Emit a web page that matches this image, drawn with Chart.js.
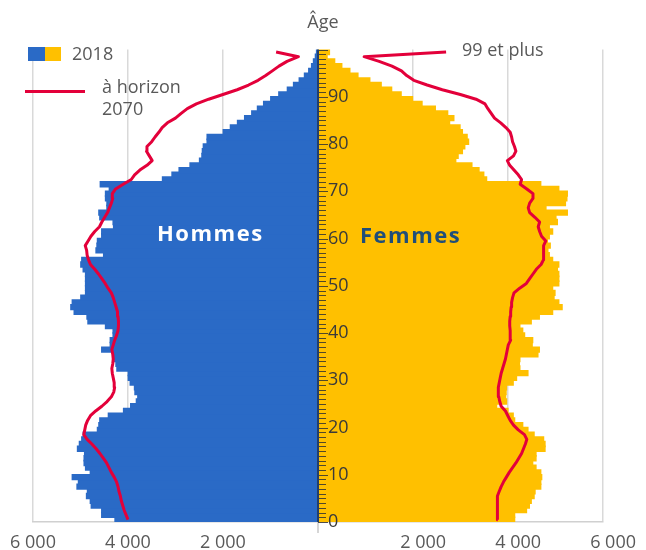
<!DOCTYPE html>
<html lang="fr">
<head>
<meta charset="utf-8">
<title>Pyramide des âges 2018 et 2070</title>
<script src="https://cdn.jsdelivr.net/npm/chart.js@4.4.1/dist/chart.umd.min.js"></script>
<style>
  html, body { margin: 0; padding: 0; background: #fff; }
  #wrap { position: relative; width: 646px; height: 550px; }
</style>
</head>
<body>
<div id="wrap"><canvas id="pyramid" width="646" height="550"></canvas></div>
<script>
// ages 0 a 99 (99 = "99 et plus")
const ages = [
  0, 1, 2, 3, 4, 5, 6, 7, 8, 9,
  10, 11, 12, 13, 14, 15, 16, 17, 18, 19,
  20, 21, 22, 23, 24, 25, 26, 27, 28, 29,
  30, 31, 32, 33, 34, 35, 36, 37, 38, 39,
  40, 41, 42, 43, 44, 45, 46, 47, 48, 49,
  50, 51, 52, 53, 54, 55, 56, 57, 58, 59,
  60, 61, 62, 63, 64, 65, 66, 67, 68, 69,
  70, 71, 72, 73, 74, 75, 76, 77, 78, 79,
  80, 81, 82, 83, 84, 85, 86, 87, 88, 89,
  90, 91, 92, 93, 94, 95, 96, 97, 98, 99,
];

const hommes2018 = [
  4280, 4560, 4560, 4780, 4800, 4880, 4860, 5080, 5050, 5180,
  4800, 4900, 4930, 4930, 4920, 5070, 5030, 4980, 4950, 4650,
  4620, 4600, 4420, 4100, 3950, 3830, 3800, 3860, 3870, 3960,
  4000, 4000, 4240, 4260, 4310, 4300, 4560, 4380, 4380, 4320,
  4320, 4480, 4850, 4870, 5140, 5210, 5180, 5000, 4900, 4900,
  4900, 4900, 4900, 4950, 5000, 4980, 4520, 4680, 4660, 4650,
  4560, 4560, 4310, 4320, 4600, 4620, 4450, 4450, 4480, 4480,
  4400, 4590, 3280, 3080, 2930, 2700, 2500, 2450, 2440, 2420,
  2340, 2340, 2000, 1850, 1700, 1550, 1400, 1280, 1150, 1000,
  830, 650, 520, 400, 290, 200, 140, 100, 60, 35,
];

const femmes2018 = [
  4150, 4150, 4400, 4460, 4500, 4560, 4580, 4700, 4700, 4720,
  4700, 4600, 4530, 4600, 4600, 4790, 4790, 4760, 4560, 4430,
  4320, 4150, 4120, 4010, 3770, 3980, 3960, 3970, 3980, 4120,
  4190, 4430, 4260, 4250, 4260, 4640, 4670, 4520, 4530, 4360,
  4320, 4260, 4500, 4670, 4950, 5150, 5080, 4980, 5000, 4950,
  5080, 5080, 5080, 5050, 5080, 4950, 4880, 4850, 4900, 4840,
  4880, 4950, 4880, 5050, 5020, 5260, 4810, 5220, 5250, 5260,
  5080, 4700, 3560, 3500, 3400, 3250, 2910, 2960, 3050, 3100,
  3180, 3150, 3050, 3000, 2780, 2870, 2740, 2480, 2200, 2000,
  1760, 1560, 1340, 1100, 850, 680, 510, 360, 200, 250,
];

const hommes2070 = [
  4000, 4040, 4080, 4110, 4140, 4160, 4190, 4210, 4240, 4290,
  4350, 4400, 4450, 4520, 4590, 4670, 4760, 4860, 4930, 4910,
  4890, 4850, 4790, 4680, 4550, 4440, 4350, 4300, 4280, 4290,
  4310, 4330, 4340, 4320, 4310, 4320, 4340, 4310, 4280, 4240,
  4210, 4200, 4200, 4210, 4220, 4250, 4280, 4310, 4350, 4420,
  4480, 4550, 4620, 4700, 4790, 4830, 4860, 4870, 4900, 4840,
  4780, 4700, 4600, 4550, 4490, 4430, 4390, 4350, 4320, 4330,
  4260, 4100, 3930, 3860, 3750, 3600, 3490, 3550, 3610, 3600,
  3500, 3430, 3350, 3280, 3170, 3000, 2880, 2750, 2560, 2300,
  2000, 1700, 1460, 1260, 1100, 960, 820, 650, 410, 880,
];

const femmes2070 = [
  3790, 3785, 3780, 3775, 3775, 3790, 3820, 3860, 3910, 3970,
  4030, 4100, 4170, 4230, 4290, 4330, 4370, 4400, 4350, 4220,
  4120, 4050, 4000, 3950, 3860, 3830, 3810, 3800, 3800, 3820,
  3840, 3860, 3890, 3920, 3950, 3970, 3990, 4010, 4060, 4050,
  4050, 4040, 4040, 4050, 4060, 4070, 4080, 4100, 4130, 4250,
  4390, 4460, 4530, 4600, 4700, 4750, 4750, 4750, 4760, 4800,
  4710, 4670, 4640, 4670, 4570, 4460, 4430, 4460, 4530, 4530,
  4400, 4260, 4290, 4220, 4130, 4040, 3990, 4120, 4170, 4140,
  4100, 4080, 4050, 3960, 3850, 3720, 3650, 3580, 3520, 3330,
  3000, 2620, 2300, 2020, 1870, 1760, 1560, 1290, 974, 2700,
];

const ageTicks = [0, 10, 20, 30, 40, 50, 60, 70, 80, 90];

const BLEU = "#2a6ac6";
const JAUNE = "#ffc000";
const ROUGE = "#e3003a";
const GRIS = "#595959";

Chart.defaults.font.family = "'Open Sans', sans-serif";
Chart.defaults.color = GRIS;

// hommes a gauche (valeurs negatives), femmes a droite
function toPoints(values, sign) {
  return values.map((v, i) => ({ x: sign * v, y: ages[i] + 0.5 }));
}

function formatTick(v) {
  if (v === 0) return "";
  const s = String(Math.abs(v)).replace(/\B(?=(\d{3})+(?!\d))/g, " ");
  return v > 0 ? "\u2007\u2007" + s : s;
}

const pyramidDecor = {
  id: "pyramidDecor",
  afterDatasetsDraw(chart) {
    const { ctx, scales: { x, y } } = chart;
    const x0 = Math.round(x.getPixelForValue(0));
    const yBottom = y.getPixelForValue(0);
    const yTop = y.getPixelForValue(100);
    ctx.save();

    // petit trait sous l'axe
    ctx.strokeStyle = "#c8c8c8";
    ctx.lineWidth = 1.5;
    ctx.beginPath();
    ctx.moveTo(x0, yBottom);
    ctx.lineTo(x0, yBottom + 11);
    ctx.stroke();

    // graduations annuelles
    ctx.strokeStyle = "rgba(50, 50, 50, 0.85)";
    ctx.lineWidth = 1;
    for (let a = 0; a <= 100; a++) {
      const py = Math.round(y.getPixelForValue(a)) + 0.5;
      ctx.beginPath();
      ctx.moveTo(x0, py);
      ctx.lineTo(x0 + (a % 10 === 0 ? 10 : 8), py);
      ctx.stroke();
    }

    // axe central
    ctx.strokeStyle = "#243f6b";
    ctx.lineWidth = 2;
    ctx.beginPath();
    ctx.moveTo(x0, yTop);
    ctx.lineTo(x0, yBottom);
    ctx.stroke();

    ctx.fillStyle = "#3a3a3a";
    ctx.font = "18px 'Open Sans'";
    ctx.textAlign = "left";
    ctx.textBaseline = "middle";
    ageTicks.forEach((v) => {
      ctx.fillText(String(v), x0 + 10, y.getPixelForValue(v));
    });
    ctx.restore();
  },
  afterDraw(chart) {
    const { ctx } = chart;
    ctx.save();
    ctx.textBaseline = "alphabetic";
    ctx.textAlign = "left";

    // etiquettes Hommes / Femmes
    ctx.font = "bold 22px 'Open Sans'";
    ctx.letterSpacing = "1.5px";
    ctx.fillStyle = "#ffffff";
    ctx.fillText("Hommes", 157, 241);
    ctx.fillStyle = "#1f4e79";
    ctx.fillText("Femmes", 360, 243);
    ctx.letterSpacing = "0px";

    // legende
    ctx.font = "18px 'Open Sans'";
    ctx.fillStyle = BLEU;
    ctx.fillRect(28, 47, 17, 14);
    ctx.fillStyle = JAUNE;
    ctx.fillRect(45, 47, 16, 14);
    ctx.fillStyle = GRIS;
    ctx.fillText("2018", 72, 60);

    ctx.strokeStyle = ROUGE;
    ctx.lineWidth = 3;
    ctx.beginPath();
    ctx.moveTo(25, 91.5);
    ctx.lineTo(85, 91.5);
    ctx.stroke();
    ctx.fillText("à horizon", 102, 93);
    ctx.fillText("2070", 102, 115);

    ctx.fillText("99 et plus", 462, 56);
    ctx.restore();
  },
};

const lineStyle = {
  type: "line",
  borderColor: ROUGE,
  borderWidth: 3,
  pointRadius: 0,
  fill: false,
  tension: 0,
  borderJoinStyle: "round",
  order: 0,
};

// barThickness un peu plus grand qu'une annee pour eviter les filets blancs
const barStyle = {
  type: "bar",
  grouped: false,
  barThickness: 5.7,
  borderWidth: 0,
  order: 1,
};

new Chart(document.getElementById("pyramid"), {
  data: {
    datasets: [
      { ...lineStyle, label: "Hommes à horizon 2070", data: toPoints(hommes2070, -1) },
      { ...lineStyle, label: "Femmes à horizon 2070", data: toPoints(femmes2070, 1) },
      { ...barStyle, label: "Hommes 2018", data: toPoints(hommes2018, -1), backgroundColor: BLEU },
      { ...barStyle, label: "Femmes 2018", data: toPoints(femmes2018, 1), backgroundColor: JAUNE },
    ],
  },
  options: {
    indexAxis: "y",
    responsive: false,
    animation: false,
    events: [],
    layout: { padding: { left: 33, right: 33, top: 0, bottom: 0 } },
    scales: {
      x: {
        type: "linear",
        min: -6000,
        max: 6000,
        ticks: {
          stepSize: 2000,
          padding: 10,
          color: GRIS,
          font: { size: 18 },
          maxRotation: 0,
          autoSkip: false,
          callback: formatTick,
        },
        grid: { color: "#d9d9d9", lineWidth: 1.5, drawTicks: false },
        border: { display: true, color: "#d0d0d0", width: 1.5 },
        afterFit: (scale) => { scale.height = 28; },
      },
      y: {
        type: "linear",
        min: 0,
        max: 100,
        offset: false,
        display: false,
      },
    },
    plugins: {
      legend: { display: false },
      tooltip: { enabled: false },
      title: {
        display: true,
        text: "Âge",
        color: GRIS,
        font: { size: 18, weight: "normal" },
        padding: { top: 12, bottom: 16 },
      },
    },
  },
  plugins: [pyramidDecor],
});
</script>
</body>
</html>
